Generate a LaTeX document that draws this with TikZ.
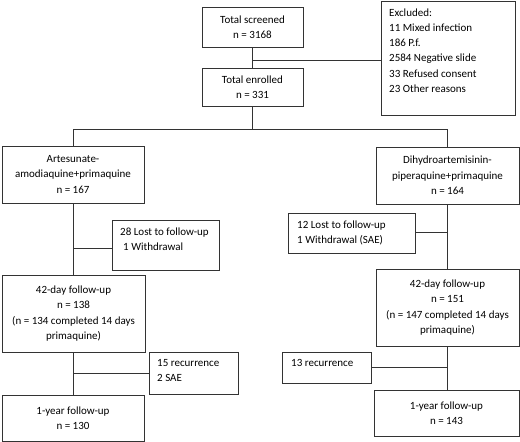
\documentclass[tikz,border=0pt]{standalone}
\usepackage{fontspec}
\setmainfont{Carlito}
\begin{document}
\begin{tikzpicture}[x=1pt,y=-1pt,
  box/.style={draw=black!80, line width=1pt, inner sep=0pt, align=center,
    font=\fontsize{11}{15.3}\selectfont, text=black},
  sidetext/.style={anchor=base west, inner sep=0pt, align=left,
    font=\fontsize{11}{15.3}\selectfont, text=black},
  conn/.style={draw=black!80, line width=1pt}]
\useasboundingbox (0,0) rectangle (520,442);
% main boxes
\node[box, minimum width=101pt, minimum height=40pt] (scr) at (252.5,27) {Total screened\\n = 3168};
\node[box, minimum width=101pt, minimum height=38pt] (enr) at (252.5,87) {Total enrolled\\n = 331};
\node[box, minimum width=134pt, minimum height=114pt] (exc) at (448,58) {};
\node[sidetext] (exct) at (389,92.5) {Excluded:\\11 Mixed infection\\186 P.f.\\2584 Negative slide\\33 Refused consent\\23 Other reasons};
\node[box, minimum width=142pt, minimum height=57pt] (aa) at (73,174.5) {Artesunate-\\amodiaquine+primaquine\\n = 167};
\node[box, minimum width=143pt, minimum height=57pt] (dp) at (447.5,175.5) {Dihydroartemisinin-\\piperaquine+primaquine\\n = 164};
\node[box, minimum width=107pt, minimum height=50pt] (lostL) at (165.5,245) {};
\node[sidetext] (lostLt) at (120,250.5) {28 Lost to follow-up\\\hspace*{3pt}1 Withdrawal};
\node[box, minimum width=127pt, minimum height=40pt] (lostR) at (351.5,233) {};
\node[sidetext] (lostRt) at (297,243.5) {12 Lost to follow-up\\1 Withdrawal (SAE)};
\node[box, minimum width=143pt, minimum height=77pt] (fuL) at (73.5,313.5) {42-day follow-up\\n = 138\\(n = 134 completed 14 days\\primaquine)};
\node[box, minimum width=143pt, minimum height=77pt] (fuR) at (447.5,307.5) {42-day follow-up\\n = 151\\(n = 147 completed 14 days\\primaquine)};
\node[box, minimum width=89pt, minimum height=42pt] (recL) at (193.5,373) {};
\node[sidetext] (recLt) at (157,381.5) {15 recurrence\\2 SAE};
\node[box, minimum width=89pt, minimum height=31pt] (recR) at (326.5,367.5) {};
\node[sidetext] (recRt) at (291,366.5) {13 recurrence};
\node[box, minimum width=142pt, minimum height=46pt] (yL) at (73,418) {1-year follow-up\\n = 130};
\node[box, minimum width=145pt, minimum height=46pt] (yR) at (446.5,413) {1-year follow-up\\n = 143};
% junctions
\coordinate (j1) at (252.5,60);
\coordinate (s) at (252.5,129);
\coordinate (bL1) at (73,248);
\coordinate (bL2) at (73,373);
\coordinate (bR1) at (447.5,232);
\coordinate (bR2) at (447.5,367);
% connectors
\draw[conn] (scr.south) -- (enr.north);
\draw[conn] (j1) -- (j1 -| exc.west);
\draw[conn] (enr.south) -- (s);
\draw[conn] (aa.north) |- (dp.north |- s) -- (dp.north);
\draw[conn] (aa.south) -- (aa.south |- fuL.north);
\draw[conn] (bL1) -- (bL1 -| lostL.west);
\draw[conn] (fuL.south -| yL.north) -- (yL.north);
\draw[conn] (bL2) -- (bL2 -| recL.west);
\draw[conn] (dp.south) -- (fuR.north);
\draw[conn] (bR1) -- (bR1 -| lostR.east);
\draw[conn] (fuR.south) -- (fuR.south |- yR.north);
\draw[conn] (bR2) -- (bR2 -| recR.east);
\end{tikzpicture}
\end{document}
